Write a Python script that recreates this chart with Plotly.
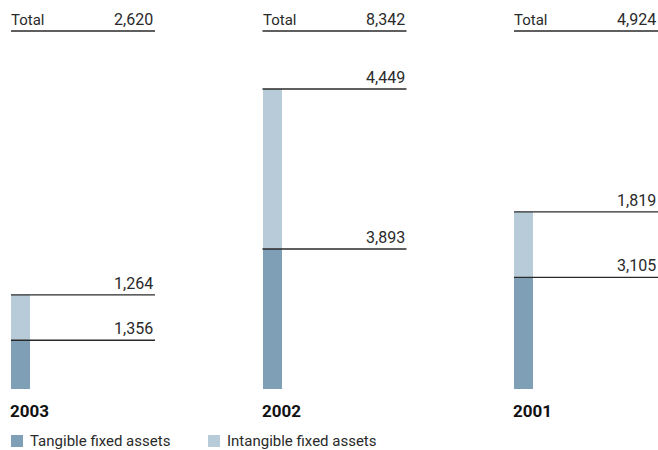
import plotly.graph_objects as go

years = ["2003", "2002", "2001"]
tangible = [1356, 3893, 3105]
intangible = [1264, 4449, 1819]
totals = [2620, 8342, 4924]
series_names = ["Tangible fixed assets", "Intangible fixed assets"]

W, H = 658, 450
unit_px = 251.5          # pixels per x unit
bar_w = 19 / unit_px
line_len = 144 / unit_px
x_left = -20.5 / unit_px
x_right = x_left + W / unit_px
per_px = 8342 / 300.0    # data units per pixel
y_bottom_px = 389
y_lo = -(H - y_bottom_px) * per_px
y_hi = y_bottom_px * per_px

c_tan = "#7f9fb6"
c_int = "#b7cbd9"
txt = "#2a2a2a"
font_fam = "Roboto, Arial, sans-serif"

xs = list(range(len(years)))

fig = go.Figure()
fig.add_trace(go.Bar(x=xs, y=tangible, name=series_names[0],
                     marker=dict(color=c_tan, line=dict(width=0)), width=bar_w))
fig.add_trace(go.Bar(x=xs, y=intangible, name=series_names[1],
                     marker=dict(color=c_int, line=dict(width=0)), width=bar_w))

shapes = []
annotations = []
fmt = lambda v: f"{v:,}"
for i, yr in enumerate(years):
    x0 = i - bar_w / 2
    x1 = x0 + line_len
    for yv, lab in [(tangible[i], tangible[i]), (tangible[i] + intangible[i], intangible[i])]:
        shapes.append(dict(type="line", xref="x", yref="y", x0=x0, x1=x1, y0=yv, y1=yv,
                           line=dict(color=txt, width=1.3)))
        annotations.append(dict(xref="x", yref="y", x=x1, y=yv, text=fmt(lab), showarrow=False,
                                xanchor="right", yanchor="bottom", yshift=0,
                                font=dict(size=16, color=txt, family=font_fam)))
    ty = 1 - 31 / H
    shapes.append(dict(type="line", xref="x", yref="paper", x0=x0, x1=x1, y0=ty, y1=ty,
                       line=dict(color=txt, width=1.3)))
    annotations.append(dict(xref="x", yref="paper", x=x0, y=ty, text="Total", showarrow=False,
                            xanchor="left", yanchor="bottom", yshift=0, xshift=-2,
                            font=dict(size=15, color=txt, family=font_fam)))
    annotations.append(dict(xref="x", yref="paper", x=x1, y=ty, text=fmt(totals[i]), showarrow=False,
                            xanchor="right", yanchor="bottom", yshift=0,
                            font=dict(size=16, color=txt, family=font_fam)))
    annotations.append(dict(xref="x", yref="paper", x=x0, y=1 - 411 / H, text=f"<b>{yr}</b>",
                            showarrow=False, xanchor="left", yanchor="middle", xshift=-3,
                            font=dict(size=17, color="#111111", family=font_fam)))

# legend (drawn manually)
leg_y = 1 - 441 / H
for px0, name, col in [(11, series_names[0], c_tan), (208, series_names[1], c_int)]:
    shapes.append(dict(type="rect", xref="paper", yref="paper",
                       x0=px0 / W, x1=(px0 + 12) / W, y0=1 - 447 / H, y1=1 - 435 / H,
                       fillcolor=col, line=dict(width=0)))
    annotations.append(dict(xref="paper", yref="paper", x=(px0 + 17) / W, y=leg_y, text=name,
                            showarrow=False, xanchor="left", yanchor="middle",
                            font=dict(size=15, color=txt, family=font_fam)))

fig.update_layout(
    width=W, height=H,
    margin=dict(l=0, r=0, t=0, b=0),
    paper_bgcolor="white", plot_bgcolor="white",
    barmode="stack",
    xaxis=dict(range=[x_left, x_right], visible=False, fixedrange=True),
    yaxis=dict(range=[y_lo, y_hi], visible=False, fixedrange=True),
    shapes=shapes,
    annotations=annotations,
    showlegend=False,
)

fig.write_html("out.html", config={"displayModeBar": False},
               post_script="document.body.style.margin='0';")
